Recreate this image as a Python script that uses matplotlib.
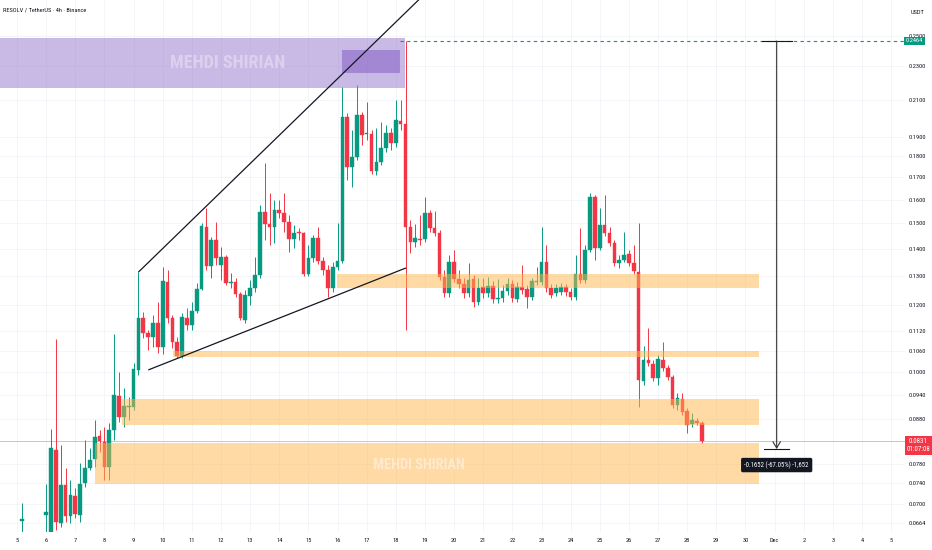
import matplotlib
matplotlib.use('Agg')
import matplotlib.pyplot as plt
from matplotlib import font_manager
from matplotlib.font_manager import FontProperties
from matplotlib.ticker import NullLocator, NullFormatter
import numpy as np

# ---- pick the narrowest installed sans family ----
entries = font_manager.fontManager.ttflist
def _has(name, stretch=None):
    for f in entries:
        if f.name == name and (stretch is None or str(f.stretch) == stretch):
            return True
    return False

NARROW_FAMILY, NARROW_STRETCH = 'DejaVu Sans', 'normal'
for fam, st in [('Liberation Sans Narrow', None), ('Roboto Condensed', None),
                ('Open Sans Condensed', None), ('Open Sans', 'condensed'),
                ('Roboto', 'condensed'), ('Noto Sans', 'condensed'),
                ('DejaVu Sans', 'condensed'), ('Noto Sans', 'semi-condensed'),
                ('Open Sans', 'semi-condensed'), ('Liberation Sans', None)]:
    if _has(fam, st):
        NARROW_FAMILY, NARROW_STRETCH = fam, (st or 'normal')
        break

def nfont(size, weight='normal'):
    return FontProperties(family=NARROW_FAMILY, stretch=NARROW_STRETCH,
                          size=size, weight=weight)

GREEN = '#089981'
RED = '#F23645'
INK = '#131722'

# ---------------- data ----------------
# candle times in fractional days of November (Dec 1 = 31); 4h candles
first_candle_day = [5 + 4 / 24]
regular_days = [6 + i / 6 for i in range(136)]
candle_days = first_candle_day + regular_days

opens = [0.0668,
    0.0678, 0.0648, 0.0810, 0.0664, 0.0736, 0.0677, 0.0715, 0.0678, 0.0740, 0.0771,
    0.0790, 0.0841, 0.0828, 0.0773, 0.0855, 0.0938, 0.0886, 0.0910, 0.0910, 0.1007,
    0.1160, 0.1113, 0.1101, 0.1144, 0.1072, 0.1279, 0.1160, 0.1086, 0.1046, 0.1160,
    0.1138, 0.1182, 0.1255, 0.1486, 0.1336, 0.1434, 0.1340, 0.1369, 0.1276, 0.1279,
    0.1238, 0.1153, 0.1231, 0.1258, 0.1304, 0.1547, 0.1498, 0.1486, 0.1556, 0.1543,
    0.1506, 0.1438, 0.1465, 0.1461, 0.1307, 0.1365, 0.1442, 0.1354, 0.1321, 0.1258,
    0.1332, 0.1354, 0.2004, 0.1749, 0.1797, 0.2015, 0.1913, 0.1913, 0.1730, 0.1773,
    0.1842, 0.1918, 0.1867, 0.1982, 0.1966, 0.1486, 0.1426, 0.1438, 0.1438, 0.1543,
    0.1481, 0.1461, 0.1297, 0.1241, 0.1351, 0.1290, 0.1272, 0.1241, 0.1290, 0.1211,
    0.1262, 0.1241, 0.1265, 0.1221, 0.1225, 0.1248, 0.1272, 0.1221, 0.1262, 0.1255,
    0.1228, 0.1279, 0.1279, 0.1351, 0.1258, 0.1241, 0.1245, 0.1262, 0.1245, 0.1228,
    0.1307, 0.1286, 0.1395, 0.1612, 0.1403, 0.1494, 0.1461, 0.1422, 0.1347, 0.1358,
    0.1380, 0.1347, 0.1314, 0.0977, 0.1034, 0.1023, 0.0985, 0.1034, 0.1012, 0.0988,
    0.0915, 0.0930, 0.0900, 0.0869, 0.0876, 0.0872]

highs = [0.0701,
    0.0738, 0.0857, 0.1095, 0.0821, 0.0771, 0.0746, 0.0730, 0.0782, 0.0832, 0.0814,
    0.0879, 0.0855, 0.0862, 0.0872, 0.1110, 0.1001, 0.0959, 0.0935, 0.1026, 0.1314,
    0.1179, 0.1122, 0.1169, 0.1211, 0.1332, 0.1321, 0.1169, 0.1101, 0.1176, 0.1192,
    0.1211, 0.1276, 0.1502, 0.1564, 0.1446, 0.1506, 0.1407, 0.1377, 0.1311, 0.1293,
    0.1245, 0.1251, 0.1286, 0.1369, 0.1577, 0.1768, 0.1630, 0.1599, 0.1599, 0.1630,
    0.1535, 0.1494, 0.1481, 0.1465, 0.1414, 0.1454, 0.1486, 0.1369, 0.1340, 0.1351,
    0.1502, 0.2174, 0.2026, 0.1934, 0.2186, 0.2031, 0.2087, 0.1934, 0.1945, 0.1977,
    0.1961, 0.1945, 0.2099, 0.2099, 0.2464, 0.1514, 0.1498, 0.1535, 0.1612, 0.1556,
    0.1552, 0.1473, 0.1321, 0.1377, 0.1395, 0.1321, 0.1293, 0.1347, 0.1304, 0.1293,
    0.1293, 0.1297, 0.1283, 0.1290, 0.1269, 0.1293, 0.1286, 0.1279, 0.1340, 0.1269,
    0.1293, 0.1332, 0.1486, 0.1414, 0.1272, 0.1272, 0.1276, 0.1272, 0.1258, 0.1377,
    0.1481, 0.1414, 0.1630, 0.1621, 0.1564, 0.1621, 0.1486, 0.1434, 0.1377, 0.1465,
    0.1395, 0.1414, 0.1502, 0.1075, 0.1129, 0.1034, 0.1049, 0.1086, 0.1020, 0.0993,
    0.0946, 0.0946, 0.0908, 0.0896, 0.0883, 0.0876]

lows = [0.0648,
    0.0646, 0.0644, 0.0651, 0.0657, 0.0666, 0.0664, 0.0673, 0.0666, 0.0732, 0.0767,
    0.0773, 0.0805, 0.0746, 0.0746, 0.0832, 0.0874, 0.0862, 0.0879, 0.0903, 0.0993,
    0.1098, 0.1063, 0.1072, 0.1054, 0.1051, 0.1144, 0.1069, 0.1040, 0.1040, 0.1122,
    0.1122, 0.1176, 0.1251, 0.1321, 0.1293, 0.1340, 0.1286, 0.1269, 0.1258, 0.1228,
    0.1153, 0.1144, 0.1201, 0.1245, 0.1293, 0.1434, 0.1414, 0.1422, 0.1522, 0.1465,
    0.1388, 0.1403, 0.1434, 0.1300, 0.1300, 0.1351, 0.1343, 0.1304, 0.1228, 0.1245,
    0.1321, 0.1347, 0.1688, 0.1656, 0.1783, 0.1857, 0.1882, 0.1716, 0.1711, 0.1758,
    0.1822, 0.1832, 0.1847, 0.1934, 0.1122, 0.1384, 0.1407, 0.1414, 0.1426, 0.1465,
    0.1450, 0.1286, 0.1228, 0.1228, 0.1279, 0.1258, 0.1225, 0.1228, 0.1195, 0.1201,
    0.1225, 0.1228, 0.1208, 0.1208, 0.1211, 0.1235, 0.1211, 0.1211, 0.1238, 0.1192,
    0.1218, 0.1269, 0.1269, 0.1245, 0.1225, 0.1231, 0.1235, 0.1231, 0.1218, 0.1218,
    0.1276, 0.1276, 0.1388, 0.1358, 0.1395, 0.1450, 0.1411, 0.1336, 0.1329, 0.1351,
    0.1336, 0.1307, 0.0910, 0.0966, 0.1018, 0.0977, 0.0966, 0.1004, 0.0980, 0.0908,
    0.0903, 0.0891, 0.0848, 0.0862, 0.0867, 0.0825]

closes = [0.0672,
    0.0684, 0.0814, 0.0666, 0.0736, 0.0677, 0.0716, 0.0680, 0.0738, 0.0771, 0.0788,
    0.0839, 0.0830, 0.0773, 0.0855, 0.0940, 0.0886, 0.0913, 0.0913, 0.1009, 0.1160,
    0.1113, 0.1101, 0.1144, 0.1072, 0.1283, 0.1160, 0.1086, 0.1046, 0.1163, 0.1138,
    0.1182, 0.1255, 0.1490, 0.1336, 0.1434, 0.1365, 0.1369, 0.1276, 0.1279, 0.1238,
    0.1160, 0.1235, 0.1258, 0.1304, 0.1547, 0.1498, 0.1486, 0.1556, 0.1543, 0.1506,
    0.1438, 0.1461, 0.1461, 0.1307, 0.1365, 0.1442, 0.1354, 0.1321, 0.1258, 0.1332,
    0.1354, 0.2004, 0.1749, 0.1797, 0.2015, 0.1908, 0.1918, 0.1730, 0.1773, 0.1842,
    0.1918, 0.1867, 0.1988, 0.1966, 0.1486, 0.1426, 0.1442, 0.1434, 0.1543, 0.1481,
    0.1461, 0.1297, 0.1241, 0.1351, 0.1290, 0.1272, 0.1241, 0.1286, 0.1211, 0.1258,
    0.1241, 0.1265, 0.1221, 0.1225, 0.1248, 0.1272, 0.1225, 0.1262, 0.1251, 0.1228,
    0.1283, 0.1283, 0.1351, 0.1258, 0.1235, 0.1258, 0.1262, 0.1245, 0.1228, 0.1307,
    0.1286, 0.1395, 0.1612, 0.1403, 0.1494, 0.1461, 0.1422, 0.1347, 0.1358, 0.1377,
    0.1347, 0.1318, 0.0980, 0.1034, 0.1026, 0.0985, 0.1037, 0.1012, 0.0988, 0.0915,
    0.0933, 0.0898, 0.0867, 0.0879, 0.0872, 0.0831]

# price levels / zones
last_price = 0.0831
ath_price = 0.2464
measure_low = 0.0812
measure_text = '-0.1652 (-67.05%) -1,652'
countdown = '01:07:08'
supply_zone = (0.2168, 0.2484)
supply_core = (0.2259, 0.2404)
demand_zones = [(0.1258, 0.1307), (0.1043, 0.1060), (0.0867, 0.0930), (0.0738, 0.0825)]
demand_zone_start = [15.98, 10.35, 8.60, 7.68]

ytick_vals = [0.2500, 0.2300, 0.2100, 0.1900, 0.1800, 0.1700, 0.1600, 0.1500, 0.1400,
              0.1300, 0.1200, 0.1120, 0.1060, 0.1000, 0.0940, 0.0880, 0.0780, 0.0740,
              0.0700, 0.0664]
xtick_days = list(range(5, 36))
xtick_labels = [str(d) for d in range(5, 31)] + ['Dec', '2', '3', '4', '5']

title = 'RESOLV / TetherUS · 4h · Binance'
watermark = 'MEHDI SHIRIAN'

# ---------------- figure ----------------
W, H = 932, 550
fig = plt.figure(figsize=(W / 100, H / 100), dpi=100, facecolor='white')
ax = fig.add_axes([0, 18 / H, 905 / W, 532 / H])
ax.set_facecolor('white')
ax.set_yscale('log')
ax.set_ylim(0.064796, 0.27548)
ax.set_xlim(4.4166, 35.474)

for s in ax.spines.values():
    s.set_visible(False)

TICK_FS = 4.6
ax.set_xticks(xtick_days)
ax.set_xticklabels(xtick_labels)
ax.yaxis.tick_right()
ax.set_yticks(ytick_vals)
ax.set_yticklabels(['%.4f' % v for v in ytick_vals])
ax.yaxis.set_minor_locator(NullLocator())
ax.yaxis.set_minor_formatter(NullFormatter())
ax.tick_params(axis='x', length=0, pad=4, labelcolor=INK)
ax.tick_params(axis='y', length=0, pad=2.5, labelcolor=INK)
for lab in ax.get_xticklabels() + ax.get_yticklabels():
    lab.set_fontproperties(nfont(TICK_FS))
for lab in ax.get_yticklabels():
    lab.set_horizontalalignment('left')
ax.grid(True, which='major', color='#f3f4f7', lw=0.6)
ax.set_axisbelow(True)

# current price line
ax.axhline(last_price, color=RED, lw=0.6, alpha=0.45, zorder=1)

# candles
d = np.array(candle_days)
o = np.array(opens); h = np.array(highs); l = np.array(lows); c = np.array(closes)
up = c >= o
cols = np.where(up, GREEN, RED)
ax.vlines(d, l, h, colors=cols, lw=0.7, zorder=2)
ax.bar(d, np.abs(c - o), bottom=np.minimum(o, c), width=0.125, color=cols,
       edgecolor=cols, linewidth=0.3, zorder=3)

# zones
ax.fill_between([4.0, 18.315], supply_zone[0], supply_zone[1], color='#9575CD',
                alpha=0.5, lw=0, zorder=4)
ax.fill_between([16.153, 18.143], supply_core[0], supply_core[1], color='#7E57C2',
                alpha=0.5, lw=0, zorder=4)
for (lo, hi), x0 in zip(demand_zones, demand_zone_start):
    ax.fill_between([x0, 30.48], lo, hi, color='#FFB74D', alpha=0.5, lw=0, zorder=4)

# watermarks
wm1 = ax.text(12.224, 0.2324, watermark, fontproperties=nfont(13, 'bold'),
              color='white', alpha=0.35, ha='center', va='center', zorder=6)
wm2 = ax.text(18.81, 0.07784, watermark, fontproperties=nfont(10, 'bold'),
              color='white', alpha=0.45, ha='center', va='center', zorder=6)

# trend lines
ax.plot([9.1667, 19.0], [0.1314, 0.2802], color=INK, lw=0.9, zorder=5,
        solid_capstyle='butt')
ax.plot([9.506, 18.349], [0.1007, 0.1329], color=INK, lw=0.9, zorder=5,
        solid_capstyle='butt')

# ATH dashed line
ax.plot([18.143, 35.474], [ath_price, ath_price], color=GREEN, lw=0.8,
        ls=(0, (3, 3)), zorder=5)

# measure tool
mx = 31.07
ax.plot([30.57, 31.60], [ath_price, ath_price], color=INK, lw=0.8, zorder=6)
ax.plot([30.63, 31.49], [measure_low, measure_low], color=INK, lw=0.8, zorder=6)
ax.annotate('', xy=(mx, measure_low), xytext=(mx, ath_price),
            arrowprops=dict(arrowstyle='->,head_length=0.5,head_width=0.3',
                            color='#333333', lw=0.8, shrinkA=0, shrinkB=0,
                            mutation_scale=9), zorder=6)
mt = ax.text(mx, 0.07774, measure_text, fontproperties=nfont(4.8), color='white',
             ha='center', va='center', zorder=7,
             bbox=dict(boxstyle='round,pad=0.5,rounding_size=0.25', fc=INK, ec='none'))

# price scale badges and header
fig.text(906 / W, 1 - 41 / H, '%.4f' % ath_price, fontproperties=nfont(TICK_FS),
         color='white', ha='left', va='center',
         bbox=dict(boxstyle='square,pad=0.3', fc=GREEN, ec='none'))
fig.patches.append(plt.Rectangle((905 / W, 1 - 455 / H), 27 / W, 19 / H,
                                 transform=fig.transFigure, fc=RED, ec='none',
                                 zorder=3))
rl = fig.text(918.5 / W, 1 - 445.5 / H, '%.4f\n%s' % (last_price, countdown),
              fontproperties=nfont(TICK_FS), color='white', ha='center',
              va='center', linespacing=1.15, zorder=4)
fig.text(911 / W, 1 - 12 / H, 'USDT', fontproperties=nfont(TICK_FS), color=INK,
         ha='left', va='center')
fig.text(3 / W, 1 - 10.5 / H, title, fontproperties=nfont(TICK_FS), color=INK,
         ha='left', va='center')

# fit text widths to the reference
fig.canvas.draw()
r = fig.canvas.get_renderer()
def fit(t, target_px):
    w = t.get_window_extent(r).width
    if w > 0:
        t.set_fontsize(t.get_fontsize() * target_px / w)
fit(wm1, 115)
fit(wm2, 91)
fit(mt, 64)
fit(rl, 24)

fig.savefig('out.png', dpi=100, facecolor='white')
